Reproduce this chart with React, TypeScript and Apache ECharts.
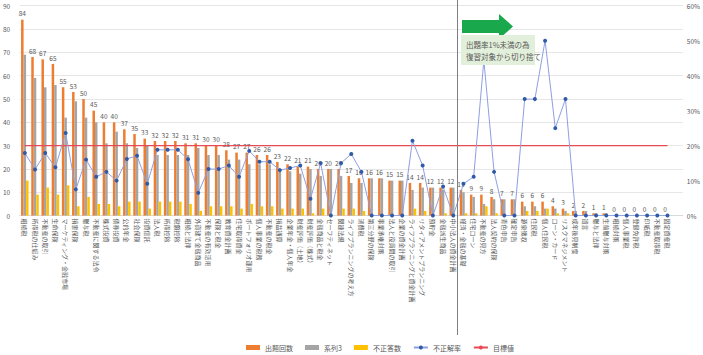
import React, { useEffect, useRef } from "react";
import * as echarts from "echarts";

const categories: string[] = [
  "相続税", "所得税の仕組み", "不動産の取引", "生命保険", "マーケティング・金融市場", "損害保険", "贈与税", "不動産に関する法令",
  "株式投資", "債券投資", "公的年金", "社会保険", "投資信託", "法人税", "所得控除", "税額控除",
  "相続と法律", "外貨建て金融商品", "不動産の有効活用", "保険と税金", "教育資金計画", "住宅取得資金", "ポートフォリオ運用", "個人事業の税務",
  "不動産の税金", "損益通算", "企業年金・個人年金", "財産評価（土地）", "財産評価（株式）", "金融商品と税金", "セーフティネット", "関連法規",
  "ライフプランニングの考え方", "消費税", "第三分野の保険", "事業承継対策", "法人と役員間の取引", "企業の資金計画", "ライフプランニングと資金計画", "リタイアメントプランニング",
  "預貯金", "金融派生商品", "中小法人の資金計画", "経済・金融の基礎", "住宅ローン", "不動産の見方", "法人契約の保険", "青色申告",
  "確定申告", "源泉徴収", "住民税", "個人住民税", "ローン・カード", "リスクマネジメント", "成年後見制度", "遺言",
  "贈与と法律", "生前贈与対策", "相続対策", "個人事業税", "登録免許税", "印紙税", "不動産取得税", "固定資産税",
];

const totalCounts: number[] = [
  84, 68, 67, 65, 55, 53, 50, 45, 40, 40, 37, 35, 33, 32, 32, 32,
  31, 31, 30, 30, 28, 27, 27, 26, 26, 23, 22, 21, 21, 20, 20, 20,
  17, 16, 16, 16, 15, 15, 14, 14, 12, 12, 12, 11, 9, 9, 8, 7,
  7, 6, 6, 6, 4, 3, 2, 2, 1, 1, 0, 0, 0, 0, 0, 0,
];

const series3Counts: number[] = [
  69, 59, 55, 56, 42, 49, 42, 40, 31, 36, 31, 29, 30, 26, 26, 26,
  26, 29, 26, 26, 24, 24, 22, 22, 22, 20, 19, 18, 20, 17, 20, 17,
  14, 14, 16, 16, 15, 15, 11, 12, 12, 11, 12, 10, 8, 5, 7, 7,
  7, 4, 4, 3, 3, 2, 2, 2, 1, 1, 0, 0, 0, 0, 0, 0,
];

const wrongCounts: number[] = [
  15, 9, 12, 9, 13, 4, 8, 5, 5, 4, 6, 6, 3, 6, 6, 6,
  5, 2, 4, 4, 4, 3, 5, 4, 4, 3, 3, 3, 1, 3, 0, 3,
  3, 2, 0, 0, 0, 0, 3, 2, 0, 1, 0, 1, 1, 4, 1, 0,
  0, 2, 2, 3, 1, 1, 0, 0, 0, 0, 0, 0, 0, 0, 0, 0,
];

const wrongRate: number[] = [
  17.9, 13.2, 17.9, 13.8, 23.6, 7.5, 16.0, 11.1, 12.5, 10.0, 16.2, 17.1, 9.1, 18.8, 18.8, 18.8,
  16.1, 6.5, 13.3, 13.3, 14.3, 11.1, 18.5, 15.4, 15.4, 13.0, 13.6, 14.3, 4.8, 15.0, 0, 15.0,
  17.6, 12.5, 0, 0, 0, 0, 21.4, 14.3, 0, 8.3, 0, 9.1, 11.1, 44.4, 12.5, 0,
  0, 33.3, 33.3, 50.0, 25.0, 33.3, 0, 0, 0, 0, 0, 0, 0, 0, 0, 0,
];

const TARGET_RATE = 20;
const targetLine: number[] = categories.map(() => TARGET_RATE);

const leftTicks = { min: 0, max: 90, interval: 10 };
const rightTicks = { min: 0, max: 60, interval: 10 };

const FONT = "'Noto Sans CJK JP', 'Noto Sans', sans-serif";
const TXT = "#595959";

export default function App() {
  const ref = useRef<HTMLDivElement>(null);

  useEffect(() => {
    if (!ref.current) return;
    const chart = echarts.init(ref.current, null, { renderer: "svg" });
    chart.setOption({
      animation: false,
      backgroundColor: "#ffffff",
      textStyle: { fontFamily: FONT },
      grid: { left: 12.6, right: 19, top: 5.7, bottom: 139.4, containLabel: false },
      legend: {
        data: [
          { name: "出題回数", icon: "rect" },
          { name: "系列3", icon: "rect" },
          { name: "不正答数", icon: "rect" },
          { name: "不正解率" },
          { name: "目標値" },
        ],
        left: 246,
        top: 344,
        padding: 0,
        itemWidth: 14,
        itemHeight: 5,
        itemGap: 12,
        textStyle: { fontSize: 7, color: TXT, fontFamily: FONT },
      },
      xAxis: {
        type: "category",
        data: categories,
        max: categories.length,
        axisTick: { show: false },
        axisLine: { lineStyle: { color: "#d9d9d9" } },
        axisLabel: {
          interval: 0,
          rotate: -90,
          fontSize: 6,
          color: TXT,
          margin: 3,
          fontFamily: FONT,
          formatter: (_v: string, i: number) => categories[i] ?? "",
        },
      },
      yAxis: [
        {
          type: "value",
          ...leftTicks,
          axisLabel: { fontSize: 6.5, color: TXT, margin: 9.5 },
          axisLine: { show: false },
          axisTick: { show: false },
          splitLine: { lineStyle: { color: "#e6e6e6" } },
        },
        {
          type: "value",
          position: "right",
          ...rightTicks,
          axisLabel: { fontSize: 6.5, color: TXT, margin: 4, formatter: "{value}%" },
          axisLine: { show: false },
          axisTick: { show: false },
          splitLine: { show: false },
        },
      ],
      series: [
        {
          name: "出題回数",
          type: "bar",
          data: totalCounts,
          barWidth: 2.5,
          barGap: "0%",
          itemStyle: { color: "#ED7D31" },
          label: { show: true, position: "top", fontSize: 6.5, color: TXT, distance: 3 },
        },
        {
          name: "系列3",
          type: "bar",
          data: series3Counts,
          barWidth: 2.5,
          barGap: "0%",
          itemStyle: { color: "#A5A5A5" },
        },
        {
          name: "不正答数",
          type: "bar",
          data: wrongCounts,
          barWidth: 2.5,
          barGap: "0%",
          itemStyle: { color: "#FFC000" },
        },
        {
          name: "不正解率",
          type: "line",
          yAxisIndex: 1,
          data: wrongRate,
          symbol: "circle",
          symbolSize: 4,
          color: "#2F5AA8",
          lineStyle: { color: "#8E9FE0", width: 1 },
          itemStyle: { color: "#2F5AA8" },
          z: 4,
        },
        {
          name: "目標値",
          type: "line",
          yAxisIndex: 1,
          data: targetLine,
          symbol: "none",
          color: "#E84A55",
          lineStyle: { color: "#E84A55", width: 1.3 },
          z: 3,
        },
      ],
      graphic: [
        {
          type: "line",
          z: 100,
          shape: { x1: 457.5, y1: 0, x2: 457.5, y2: 335 },
          style: { stroke: "#7f7f7f", lineWidth: 1 },
        },
        {
          type: "polygon",
          z: 100,
          shape: {
            points: [
              [462, 20], [499, 20], [499, 14], [513, 26.5], [499, 39], [499, 33], [462, 33],
            ],
          },
          style: { fill: "#19A84B" },
        },
        {
          type: "rect",
          z: 100,
          shape: { x: 461, y: 35, width: 74, height: 30 },
          style: { fill: "#E2EFDA" },
        },
        {
          type: "text",
          z: 101,
          x: 466,
          y: 44,
          style: { text: "出題率1%未満の為", fontSize: 7.5, fill: TXT, fontFamily: FONT, verticalAlign: "middle" },
        },
        {
          type: "text",
          z: 101,
          x: 466,
          y: 56.5,
          style: { text: "復習対象から切り捨て", fontSize: 7.5, fill: TXT, fontFamily: FONT, verticalAlign: "middle" },
        },
      ],
    });
    return () => chart.dispose();
  }, []);

  return (
    <div
      ref={ref}
      style={{ position: "absolute", left: 0, top: 0, width: 703, height: 355 }}
    />
  );
}
